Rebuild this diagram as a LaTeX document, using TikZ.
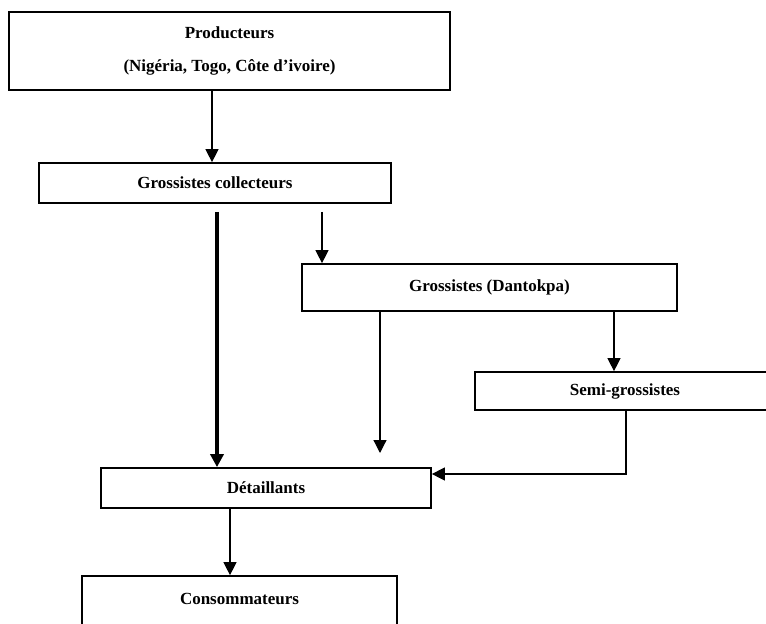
\documentclass[tikz,border=0pt]{standalone}
\usepackage{fontspec}
\setmainfont{Liberation Serif}
\usepackage{tikz}
\usetikzlibrary{arrows.meta}
\tikzset{
  blk/.style      = {draw=black, line width=1.7pt, align=center, inner sep=0pt,
                     font=\bfseries\fontsize{17}{33}\selectfont},
  flow/.style     = {-{Triangle[length=13pt,width=13pt]}, draw=black, line width=1.2pt},
  mainflow/.style = {flow, line width=3.4pt},
}

\begin{document}
\begin{tikzpicture}[x=1pt, y=-1pt]

  \path[use as bounding box, clip] (0,0) rectangle (766,624);

  \node[blk, minimum width=441pt, minimum height=78pt] (prod) at (229.5,51)
    {Producteurs\\(Nigéria, Togo, Côte d’ivoire)};

  \node[blk, minimum width=352pt, minimum height=40pt] (coll) at (215,183)
    {Grossistes collecteurs};

  \node[blk, minimum width=375pt, minimum height=47pt] (dant) at (489.5,287.5)
    {Grossistes (Dantokpa)};

  \node[blk, minimum width=300pt, minimum height=38pt] (semi) at (625,391)
    {Semi-grossistes};

  \node[blk, minimum width=330pt, minimum height=40pt] (det) at (266,488)
    {Détaillants};

  \node[blk, minimum width=315pt, minimum height=78pt] (cons) at (239.5,615)
    {Consommateurs\\~};

  \coordinate (collout1) at ([xshift=2pt,yshift=-8pt]coll.south);
  \coordinate (collout2) at ([xshift=107pt,yshift=-8pt]coll.south);
  \coordinate (dantfree) at (380,453);

  \draw[flow] ([xshift=-17.5pt]prod.south) -- ([xshift=-17.5pt]prod.south |- coll.north);

  \draw[mainflow] (collout1) -- (collout1 |- det.north);
  \draw[flow] (collout2) -- (collout2 |- dant.north);

  \draw[flow] (dantfree |- dant.south) -- (dantfree);
  \draw[flow] ([xshift=124.5pt]dant.south) -- ([xshift=124.5pt]dant.south |- semi.north);

  \draw[flow] ([xshift=1pt]semi.south) |- ([yshift=14pt]det.east);

  \draw[flow] ([xshift=-36pt]det.south) -- ([xshift=-36pt]det.south |- cons.north);

\end{tikzpicture}
\end{document}
